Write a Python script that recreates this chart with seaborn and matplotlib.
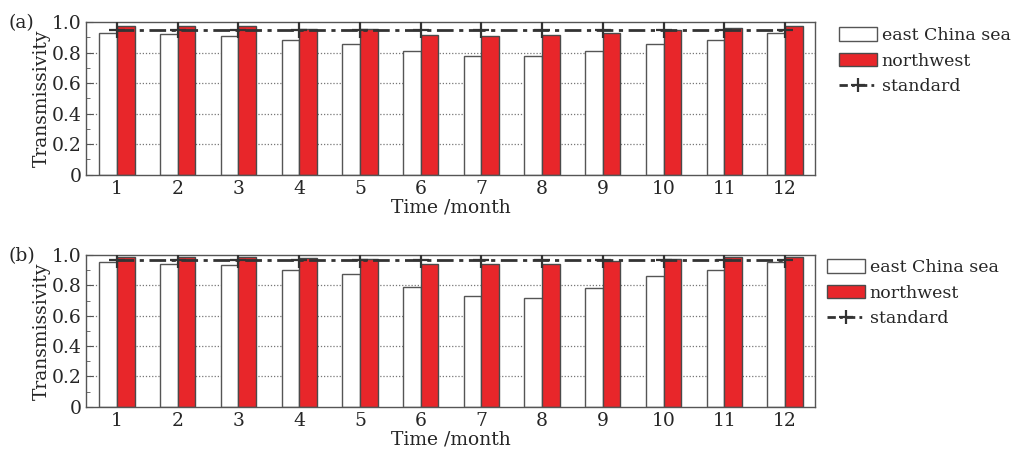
import numpy as np
import pandas as pd
import matplotlib
matplotlib.use("Agg")
import matplotlib.pyplot as plt
import seaborn as sns
from matplotlib.patches import Patch
from matplotlib.lines import Line2D
from matplotlib.ticker import FuncFormatter, MultipleLocator

months = [str(m) for m in range(1, 13)]
regions = ["east China sea", "northwest"]

east_a = [0.930, 0.920, 0.911, 0.883, 0.857, 0.807, 0.777, 0.777, 0.807, 0.857, 0.881, 0.928]
north_a = [0.976, 0.976, 0.972, 0.952, 0.952, 0.915, 0.909, 0.915, 0.928, 0.950, 0.963, 0.976]
standard_a = 0.95

east_b = [0.957, 0.943, 0.935, 0.904, 0.872, 0.787, 0.728, 0.720, 0.780, 0.865, 0.904, 0.957]
north_b = [0.989, 0.989, 0.987, 0.983, 0.974, 0.943, 0.939, 0.943, 0.961, 0.972, 0.985, 0.989]
standard_b = 0.97

panel_labels = ["(a)", "(b)"]
yticks = [0, 0.2, 0.4, 0.6, 0.8, 1.0]

RED = "#e8262a"
EDGE = "#4a4a4a"
FS = 13.5

sns.set_style("white")
plt.rcParams["font.family"] = ["DejaVu Serif"]
plt.rcParams["mathtext.fontset"] = "dejavuserif"

fig = plt.figure(figsize=(10.16, 4.49), dpi=100)
ax_a = fig.add_axes([0.0846, 0.611, 0.7174, 0.340])
ax_b = fig.add_axes([0.0846, 0.094, 0.7174, 0.338])


def draw(ax, east, north, std, label, leg_x, leg_y):
    df = pd.DataFrame({
        "month": months * 2,
        "value": east + north,
        "region": [regions[0]] * 12 + [regions[1]] * 12,
    })
    ax.set_axisbelow(True)
    for y in [0.2, 0.4, 0.6, 0.8]:
        ax.axhline(y, color="#777777", lw=0.9, ls=(0, (1, 1.5)), zorder=0)
    sns.barplot(data=df, x="month", y="value", hue="region", order=months,
                hue_order=regions, palette=["white", RED], saturation=1, width=0.58,
                edgecolor=EDGE, linewidth=1.0, ax=ax, legend=False, zorder=2)
    for p in ax.patches:
        if p.get_facecolor()[:3] == (1.0, 1.0, 1.0):
            p.set_edgecolor("#555555")
    xs = np.arange(len(months))
    ax.plot(xs, [std] * len(months), color="#333333", lw=2.0,
            ls=(0, (6, 2, 1.5, 2)), marker="+", ms=11, mew=1.6, zorder=3)
    ax.set_xlim(-0.51, 11.49)
    ax.set_ylim(0, 1.0)
    ax.set_yticks(yticks)
    ax.yaxis.set_minor_locator(MultipleLocator(0.1))
    ax.yaxis.set_major_formatter(FuncFormatter(lambda v, p: "0" if v == 0 else f"{v:.1f}"))
    ax.tick_params(axis="y", which="both", direction="in", left=True, labelsize=FS,
                   color="#555555", pad=3)
    ax.tick_params(axis="y", which="major", length=5)
    ax.tick_params(axis="y", which="minor", length=3)
    ax.tick_params(axis="x", bottom=False, labelsize=FS, pad=0.5)
    ax.set_ylabel("Transmissivity", fontsize=FS, labelpad=1)
    ax.set_xlabel("Time /month", fontsize=FS, labelpad=0)
    for s in ax.spines.values():
        s.set_color("#555555")
        s.set_linewidth(1.0)
    fig.text(0.008, ax.get_position().y1 - 0.003, label, fontsize=FS, va="center", ha="left")
    handles = [
        Patch(facecolor="white", edgecolor="#555555", label=regions[0]),
        Patch(facecolor=RED, edgecolor=EDGE, label=regions[1]),
        Line2D([0], [0], color="#333333", lw=2.0, ls=(0, (3, 1.5, 1, 1.5)), marker="+",
               ms=10, mew=1.6, label="standard"),
    ]
    fig.legend(handles=handles, loc="upper left", bbox_to_anchor=(leg_x, leg_y),
               frameon=False, fontsize=12.5, handlelength=2.2, handleheight=0.8,
               handletextpad=0.25, labelspacing=0.5, borderaxespad=0, borderpad=0)


draw(ax_a, east_a, north_a, standard_a, panel_labels[0], 0.826, 0.94)
draw(ax_b, east_b, north_b, standard_b, panel_labels[1], 0.814, 0.423)

fig.savefig("out.png", dpi=100)
